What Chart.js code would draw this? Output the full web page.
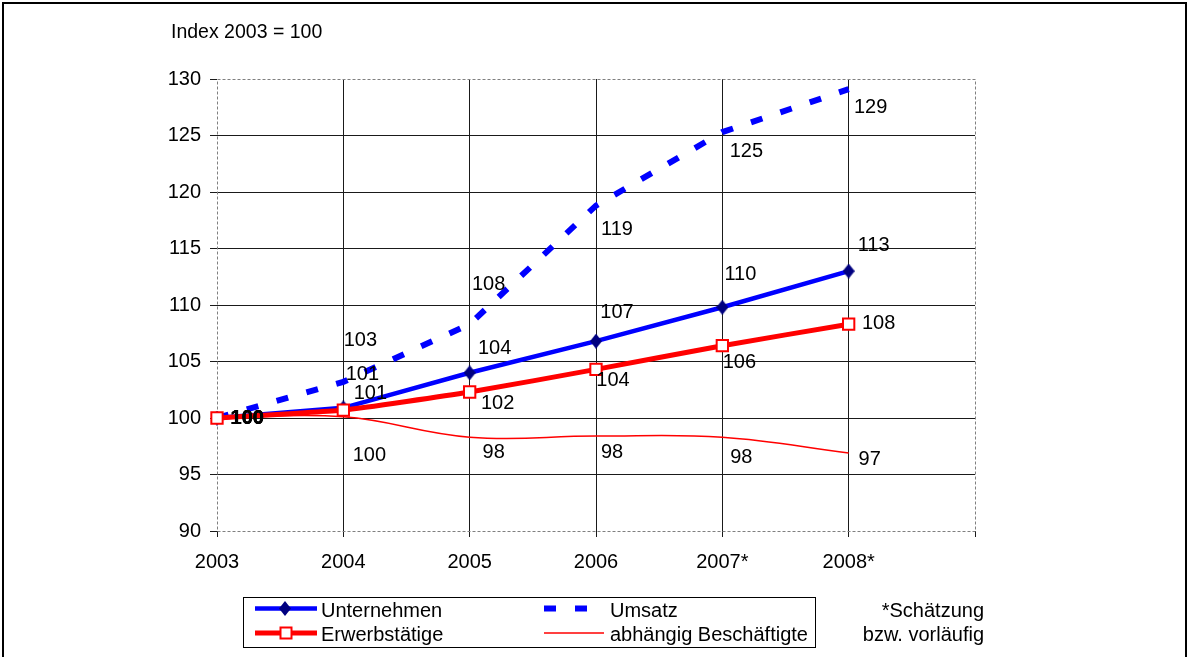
<!DOCTYPE html>
<html>
<head>
<meta charset="utf-8">
<script src="https://cdn.jsdelivr.net/npm/chart.js@4/dist/chart.umd.min.js"></script>
<style>
  html, body { margin: 0; padding: 0; background: #fff; }
  #wrap { position: relative; width: 1189px; height: 657px; }
  canvas { display: block; }
</style>
</head>
<body>
<div id="wrap"><canvas id="c" width="1189" height="657"></canvas></div>
<script>
// Jahre (x-Achse) und Indexwerte (2003 = 100)
const years = ['2003', '2004', '2005', '2006', '2007*', '2008*'];
const unternehmen = [100, 100.9, 104.0, 106.8, 109.8, 113.0];
const umsatz = [100, 103.2, 108.3, 118.8, 125.3, 129.1];
const erwerbstaetige = [100, 100.7, 102.3, 104.3, 106.4, 108.3];
const abhaengigBeschaeftigte = [100, 100.1, 98.3, 98.4, 98.3, 96.9];
const seriesNames = ['Unternehmen', 'Umsatz', 'Erwerbstätige', 'abhängig Beschäftigte'];
const yMin = 90, yMax = 130, yStep = 5;

const FONT = "'Liberation Sans', Arial, sans-serif";
const BLUE = '#0000FF', NAVY = '#000080', RED = '#FF0000';

// Versatz der Wertbeschriftungen (px) relativ zum Datenpunkt, je Reihe
const labelOffsets = [
  [[30, 0], [19, -33], [25, -24], [21, -29], [18, -33], [25, -26]],
  [[30.5, 0.4], [17, -41], [19, -40], [21, 24], [24, 19], [22, 18]],
  [[30.2, 0], [27, -17], [28, 11], [17, 11], [17, 17], [30, -1]],
  [[30.3, 0.5], [26, 39], [24, 15], [16, 16], [19, 20], [21, 6]]
];

// Rautenmarker (etwas höher als breit)
function diamondMarker(w, h) {
  const c = document.createElement('canvas');
  c.width = w; c.height = h;
  const g = c.getContext('2d');
  g.fillStyle = NAVY;
  g.beginPath();
  g.moveTo(w / 2, 0); g.lineTo(w, h / 2); g.lineTo(w / 2, h); g.lineTo(0, h / 2);
  g.closePath(); g.fill();
  return c;
}
const diamond = diamondMarker(12, 15);

// Rahmen, Beschriftungen, Legende und Fußnote
const decorPlugin = {
  id: 'decor',
  beforeDatasetsDraw(chart) {
    const { ctx, chartArea: a } = chart;
    ctx.save();
    ctx.strokeStyle = '#808080';
    ctx.lineWidth = 1;
    ctx.setLineDash([3, 2]);
    ctx.strokeRect(Math.round(a.left) + 0.5, Math.round(a.top) + 0.5,
                   Math.round(a.right - a.left), Math.round(a.bottom - a.top));
    ctx.restore();
  },
  afterDatasetsDraw(chart) {
    const { ctx } = chart;
    ctx.save();
    ctx.fillStyle = '#000';
    ctx.textAlign = 'center';
    ctx.textBaseline = 'middle';
    chart.data.datasets.forEach((ds, i) => {
      const meta = chart.getDatasetMeta(i);
      meta.data.forEach((pt, j) => {
        const off = labelOffsets[i][j];
        ctx.font = (j === 0 ? 'bold ' : '') + '20px ' + FONT;
        ctx.fillText(String(Math.round(ds.data[j])), pt.x + off[0], pt.y + off[1]);
      });
    });
    ctx.restore();
  },
  afterDraw(chart) {
    const { ctx } = chart;
    const ds = chart.data.datasets;
    ctx.save();
    // Außenrahmen
    ctx.strokeStyle = '#000';
    ctx.lineWidth = 2;
    ctx.beginPath();
    ctx.moveTo(3, 657); ctx.lineTo(3, 3); ctx.lineTo(1186, 3); ctx.lineTo(1186, 657);
    ctx.stroke();

    // Achsentitel
    ctx.fillStyle = '#000';
    ctx.font = '19.5px ' + FONT;
    ctx.textAlign = 'left';
    ctx.textBaseline = 'alphabetic';
    ctx.fillText('Index 2003 = 100', 171, 38);

    // Legende
    ctx.lineWidth = 1;
    ctx.strokeStyle = '#000';
    ctx.strokeRect(243.5, 597.5, 572, 50);
    const lineY = [608.5, 633];
    const textY = [616.5, 640.5];
    // Unternehmen
    ctx.strokeStyle = ds[0].borderColor; ctx.lineWidth = ds[0].borderWidth;
    ctx.beginPath(); ctx.moveTo(255, lineY[0]); ctx.lineTo(317, lineY[0]); ctx.stroke();
    ctx.drawImage(diamond, 285 - 6, lineY[0] - 7.5);
    // Erwerbstätige
    ctx.strokeStyle = ds[2].borderColor; ctx.lineWidth = ds[2].borderWidth;
    ctx.beginPath(); ctx.moveTo(255, lineY[1]); ctx.lineTo(317, lineY[1]); ctx.stroke();
    ctx.fillStyle = '#fff'; ctx.lineWidth = 2;
    ctx.fillRect(280.5, lineY[1] - 5.5, 11, 11);
    ctx.strokeRect(280.5, lineY[1] - 5.5, 11, 11);
    // Umsatz
    ctx.strokeStyle = ds[1].borderColor; ctx.lineWidth = ds[1].borderWidth;
    ctx.setLineDash(ds[1].borderDash);
    ctx.beginPath(); ctx.moveTo(544, lineY[0]); ctx.lineTo(604, lineY[0]); ctx.stroke();
    ctx.setLineDash([]);
    // abhängig Beschäftigte
    ctx.strokeStyle = ds[3].borderColor; ctx.lineWidth = ds[3].borderWidth;
    ctx.beginPath(); ctx.moveTo(544, lineY[1]); ctx.lineTo(604, lineY[1]); ctx.stroke();

    ctx.font = '20px ' + FONT;
    ctx.fillStyle = '#000';
    ctx.textAlign = 'left';
    ctx.fillText(seriesNames[0], 321, textY[0]);
    ctx.fillText(seriesNames[2], 321, textY[1]);
    ctx.fillText(seriesNames[1], 610, textY[0]);
    ctx.fillText(seriesNames[3], 610, textY[1]);

    // Fußnote
    ctx.textAlign = 'right';
    ctx.fillText('*Schätzung', 984, textY[0]);
    ctx.fillText('bzw. vorläufig', 984, textY[1]);
    ctx.restore();
  }
};

const GRID = '#1a1a1a';

new Chart(document.getElementById('c'), {
  type: 'line',
  data: {
    labels: years.concat(['']),
    datasets: [
      {
        label: seriesNames[0], data: unternehmen, order: 2,
        borderColor: BLUE, borderWidth: 4.5,
        pointStyle: diamond, pointRadius: 7, tension: 0
      },
      {
        label: seriesNames[1], data: umsatz, order: 3,
        borderColor: BLUE, borderWidth: 6, borderDash: [12, 19], borderCapStyle: 'butt',
        pointRadius: 0, tension: 0
      },
      {
        label: seriesNames[2], data: erwerbstaetige, order: 1,
        borderColor: RED, borderWidth: 5,
        pointStyle: 'rect', pointRadius: 8, pointBackgroundColor: '#fff',
        pointBorderColor: RED, pointBorderWidth: 2, tension: 0.15
      },
      {
        label: seriesNames[3], data: abhaengigBeschaeftigte, order: 4,
        borderColor: RED, borderWidth: 1.5,
        pointRadius: 0, tension: 0.4
      }
    ]
  },
  options: {
    responsive: false,
    animation: false,
    devicePixelRatio: 1,
    layout: { padding: { top: 79, right: 214, bottom: 0, left: 0 } },
    plugins: { legend: { display: false }, tooltip: { enabled: false } },
    scales: {
      x: {
        type: 'category',
        offset: false,
        border: { display: false },
        grid: {
          color: (c) => (c.index === 0 || c.index === years.length) ? 'rgba(0,0,0,0)' : GRID,
          tickColor: GRID, tickLength: 6, lineWidth: 1
        },
        ticks: {
          color: '#000', font: { family: FONT, size: 20 },
          maxRotation: 0, autoSkip: false, padding: 13
        },
        afterFit(s) { s.height = 126; }
      },
      y: {
        min: yMin, max: yMax,
        border: { display: false },
        grid: {
          color: (c) => (c.tick && (c.tick.value === yMin || c.tick.value === yMax)) ? 'rgba(0,0,0,0)' : GRID,
          tickColor: GRID, tickLength: 7, lineWidth: 1
        },
        ticks: {
          stepSize: yStep, color: '#000', font: { family: FONT, size: 20 }, padding: 9
        },
        afterFit(s) { s.width = 217; }
      }
    }
  },
  plugins: [decorPlugin]
});
</script>
</body>
</html>
